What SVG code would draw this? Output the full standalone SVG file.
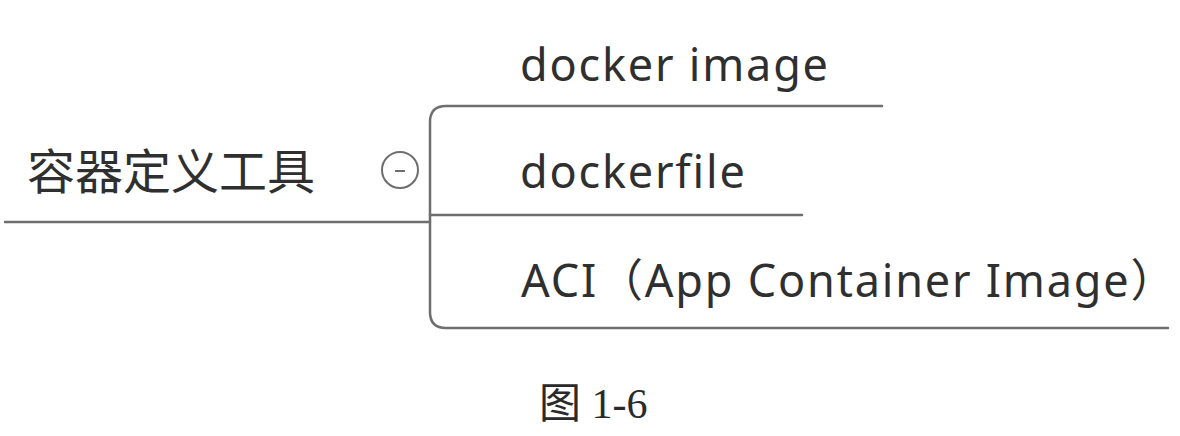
<svg xmlns="http://www.w3.org/2000/svg" width="1180" height="436" viewBox="0 0 1180 436">
<style>
.ln{fill:none;stroke:#6e6e6e;stroke-width:2.5;stroke-linecap:round}
.t{font-family:"Noto Sans","Noto Sans CJK SC",sans-serif;fill:#2f2f2f;font-size:45px;letter-spacing:1.8px}
.root{font-family:"Noto Sans CJK SC",sans-serif;fill:#2f2f2f;font-size:48px}
.cap{font-family:"Liberation Serif","Noto Sans CJK SC",serif;fill:#2a2a2a;font-size:42px}
</style>
<rect width="1180" height="436" fill="#fff"/>
<g id="connectors">
<path class="ln" d="M5 222 H430"/>
<path class="ln" d="M882 106 H446 Q430 106 430 122 V312 Q430 328 446 328 H1168"/>
<path class="ln" d="M430 215 H802"/>
</g>
<g id="root">
<text class="root" x="27" y="189">容器定义工具</text>
<circle cx="400" cy="170" r="18" fill="#fff" stroke="#6e6e6e" stroke-width="2"/>
<path d="M395 171 H405" stroke="#6e6e6e" stroke-width="2"/>
</g>
<g id="n1"><text class="t" x="520" y="81">docker image</text></g>
<g id="n2"><text class="t" x="520" y="188">dockerfile</text></g>
<g id="n3"><text class="t" x="521" y="297">ACI（App Container Image）</text></g>
<g id="caption"><text class="cap" x="539" y="418">图 1-6</text></g>
</svg>
